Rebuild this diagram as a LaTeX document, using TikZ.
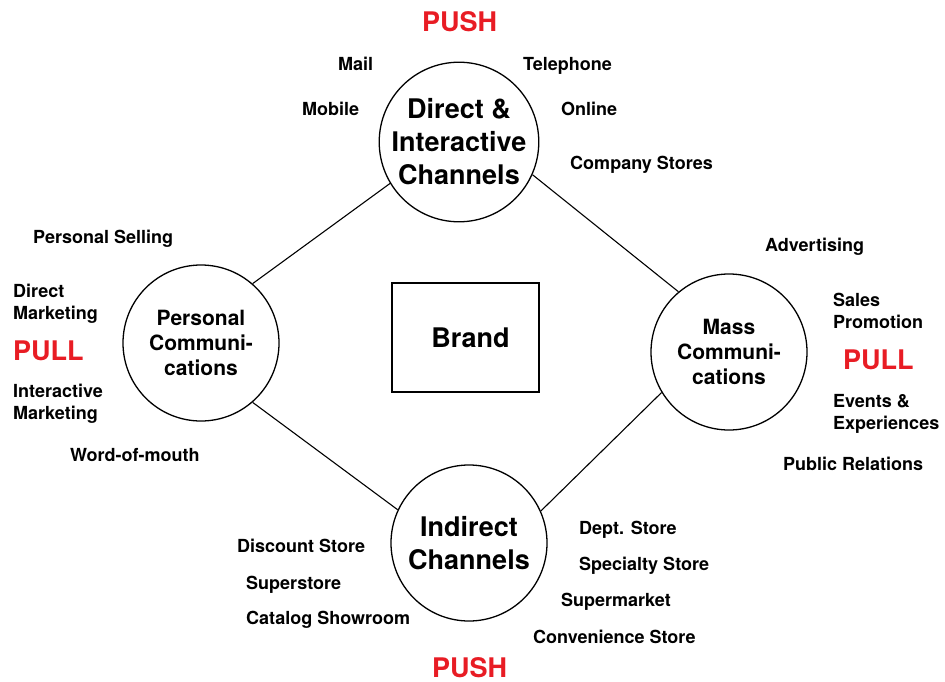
\documentclass[tikz,border=0pt]{standalone}
\usepackage{fontspec}
\setmainfont{TeX Gyre Heros}
\definecolor{pushred}{RGB}{232,28,36}
\begin{document}
\begin{tikzpicture}[x=1pt,y=-1pt,
  hub/.style={circle, draw, line width=1.3pt, minimum size=156pt, inner sep=0pt,
    align=center, font=\fontsize{27}{33}\selectfont\bfseries},
  hubsmall/.style={hub, font=\fontsize{21}{25}\selectfont\bfseries},
  lbl/.style={anchor=west, inner sep=0pt, text height=13pt, text depth=0pt,
    font=\fontsize{18}{22}\selectfont\bfseries},
  lbltwo/.style={anchor=west, inner sep=0pt, align=left,
    font=\fontsize{18}{22}\selectfont\bfseries},
  force/.style={anchor=west, inner sep=0pt, text height=19.5pt, text depth=0pt,
    text=pushred, font=\fontsize{27}{30}\selectfont\bfseries},
  link/.style={line width=1.1pt}]
\useasboundingbox (0,0) rectangle (945,682);

% central brand box
\node[draw, line width=1.3pt, minimum width=147pt, minimum height=109pt,
      font=\fontsize{27}{30}\selectfont\bfseries] (brand) at (465.5,337.5)
      {\hspace*{10pt}Brand};

% the four channel hubs
\node[hub] (direct) at (459,142) {Direct \&\\Interactive\\Channels};
\node[hubsmall] (personal) at (201,343) {Personal\\Communi-\\cations};
\node[hubsmall] (mass) at (729,352) {Mass\\Communi-\\cations};
\node[hub] (indirect) at (469,543) {Indirect\\Channels};

% diamond of connectors
\draw[link] (direct.211.5) -- (personal.49);
\draw[link] (direct.336) -- (mass.130);
\draw[link] (personal.311.5) -- (indirect.155);
\draw[link] (mass.211) -- (indirect.24);

% push / pull
\node[force] (pushtop) at (422,22) {PUSH};
\node[force] (pushbot) at (432,668) {PUSH};
\node[force] (pullleft) at (13,351) {PULL};
\node[force] (pullright) at (843,360) {PULL};

% direct & interactive channels
\node[lbl] (mail) at (338,64) {Mail};
\node[lbl] (phone) at (523,64) {Telephone};
\node[lbl] (mobile) at (302,109) {Mobile};
\node[lbl] (online) at (561,109) {Online};
\node[lbl] (stores) at (570,163) {Company Stores};

% personal communications
\node[lbl] (selling) at (33,237) {Personal Selling};
\node[lbltwo] (dm) at (13,304) {Direct\\Marketing};
\node[lbltwo] (im) at (13,404) {Interactive\\Marketing};
\node[lbl] (wom) at (70,455) {Word-of-mouth};

% mass communications
\node[lbl] (adv) at (765,245) {Advertising};
\node[lbltwo] (sp) at (833,311) {Sales\\Promotion};
\node[lbltwo] (ev) at (833,413.5) {Events \&\\Experiences};
\node[lbl] (pr) at (783,464) {Public Relations};

% indirect channels
\node[lbl] (discount) at (237,546) {Discount Store};
\node[lbl] (super) at (246,583) {Superstore};
\node[lbl] (catalog) at (246,618) {Catalog Showroom};
\node[lbl] (dept) at (579,528) {Dept. Store};
\node[lbl] (specialty) at (579,564) {Specialty Store};
\node[lbl] (market) at (561,600) {Supermarket};
\node[lbl] (conv) at (533,637) {Convenience Store};
\end{tikzpicture}
\end{document}
